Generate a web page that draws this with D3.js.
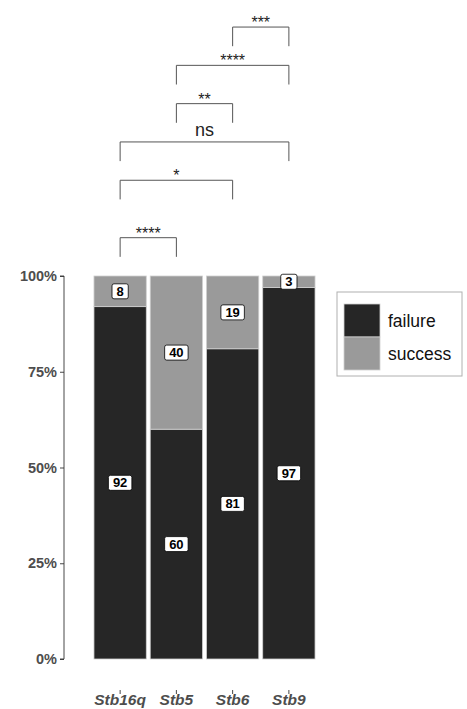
<!DOCTYPE html>
<html><head><meta charset="utf-8">
<script src="https://cdn.jsdelivr.net/npm/d3@7"></script>
<style>body{margin:0;background:#fff;} svg{display:block;}</style>
</head><body>
<svg id="chart" width="467" height="709"></svg>
<script>
const categories = ["Stb16q", "Stb5", "Stb6", "Stb9"];
const failure = [92, 60, 81, 97];
const success = [8, 40, 19, 3];
const seriesNames = ["failure", "success"];
const seriesColors = ["#262626", "#9a9a9a"];
const yTicks = [0, 25, 50, 75, 100];
const yTickLabels = ["0%", "25%", "50%", "75%", "100%"];
// significance comparisons (ggsignif-style: groups, y_position in % units, label)
const compA = ["Stb16q", "Stb16q", "Stb16q", "Stb5", "Stb5", "Stb6"];
const compB = ["Stb5", "Stb6", "Stb9", "Stb6", "Stb9", "Stb9"];
const compY = [110, 125, 135, 145, 155, 165];
const compLabel = ["****", "*", "ns", "**", "****", "***"];
const tipLength = 5;

const svg = d3.select("#chart");
const font = "'Liberation Sans', Arial, Helvetica, sans-serif";

const x = d3.scaleBand().domain(categories).range([92, 317]).paddingInner(0.07).paddingOuter(0.035);
const y = d3.scaleLinear().domain([0, 100]).range([659, 276]);

// stacked data
const rows = categories.map((c, i) => ({cat: c, failure: failure[i], success: success[i]}));
const stack = d3.stack().keys(seriesNames)(rows);

const gBars = svg.append("g");
stack.forEach((layer, li) => {
  gBars.selectAll(null).data(layer).enter().append("rect")
    .attr("x", d => x(d.data.cat))
    .attr("width", x.bandwidth())
    .attr("y", d => y(d[1]))
    .attr("height", d => y(d[0]) - y(d[1]))
    .attr("fill", seriesColors[li])
    .attr("stroke", "#d0d0d0")
    .attr("stroke-width", 0.8);
});

// labels
const gLab = svg.append("g");
stack.forEach((layer, li) => {
  layer.forEach(d => {
    const v = d[1] - d[0];
    const cx = x(d.data.cat) + x.bandwidth() / 2;
    const cy = y((d[0] + d[1]) / 2);
    const g = gLab.append("g");
    const rect = g.append("rect");
    const t = g.append("text").attr("x", cx).attr("y", cy)
      .attr("text-anchor", "middle").attr("dominant-baseline", "central")
      .attr("font-family", font).attr("font-weight", "bold").attr("font-size", 13)
      .attr("fill", "#000").text(v);
    const bb = t.node().getBBox();
    const w = bb.width + 9, h = 15;
    rect.attr("x", cx - w / 2).attr("y", cy - h / 2).attr("width", w).attr("height", h)
      .attr("rx", 2).attr("ry", 2).attr("fill", "#fff").attr("stroke", "#000").attr("stroke-width", 0.8);
  });
});

// y axis
const yAxis = d3.axisLeft(y).tickValues(yTicks).tickFormat((d, i) => yTickLabels[i]).tickSize(4).tickPadding(3);
const gy = svg.append("g").attr("transform", "translate(64,0)").call(yAxis);
gy.select(".domain").attr("stroke", "#333").attr("stroke-width", 0.9).attr("d", `M-4,${y(100)}H0V${y(0)}H-4`);
gy.selectAll(".tick line").attr("stroke", "#333").attr("stroke-width", 0.9);
gy.selectAll(".tick text").attr("font-family", font).attr("font-weight", "bold")
  .attr("font-size", 14.5).attr("fill", "#4d4d4d");

// x axis
const xAxis = d3.axisBottom(x).tickSize(4).tickPadding(5);
const gx = svg.append("g").attr("transform", "translate(0,690)").call(xAxis);
gx.select(".domain").remove();
gx.selectAll(".tick line").attr("stroke", "#333").attr("stroke-width", 0.9);
gx.selectAll(".tick text").attr("font-family", font).attr("font-weight", "bold").attr("font-style", "italic")
  .attr("font-size", 15.5).attr("fill", "#4d4d4d").attr("dy", "0").attr("y", 15);

// significance brackets
const gSig = svg.append("g");
compA.forEach((a, i) => {
  const x1 = x(a) + x.bandwidth() / 2;
  const x2 = x(compB[i]) + x.bandwidth() / 2;
  const yl = y(compY[i]);
  const yb = y(compY[i] - tipLength);
  gSig.append("path").attr("d", `M${x1},${yb}V${yl}H${x2}V${yb}`)
    .attr("fill", "none").attr("stroke", "#555").attr("stroke-width", 1);
  const isStars = compLabel[i].indexOf("*") >= 0;
  gSig.append("text").attr("x", (x1 + x2) / 2).attr("y", isStars ? yl + 1 : yl - 6)
    .attr("text-anchor", "middle").attr("font-family", font)
    .attr("font-size", isStars ? 16 : 18).attr("fill", "#222")
    .text(compLabel[i]);
});

// legend
const lg = svg.append("g");
lg.append("rect").attr("x", 337).attr("y", 292).attr("width", 125).attr("height", 84)
  .attr("fill", "#fff").attr("stroke", "#b0b0b0").attr("stroke-width", 1);
seriesNames.forEach((s, i) => {
  lg.append("rect").attr("x", 344).attr("y", 304 + i * 33).attr("width", 36).attr("height", 33)
    .attr("fill", seriesColors[i]).attr("stroke", "#d0d0d0").attr("stroke-width", 0.8);
  lg.append("text").attr("x", 388).attr("y", 321 + i * 33).attr("dominant-baseline", "central")
    .attr("font-family", font).attr("font-size", 17.5).attr("fill", "#111").text(s);
});
</script>
</body></html>
